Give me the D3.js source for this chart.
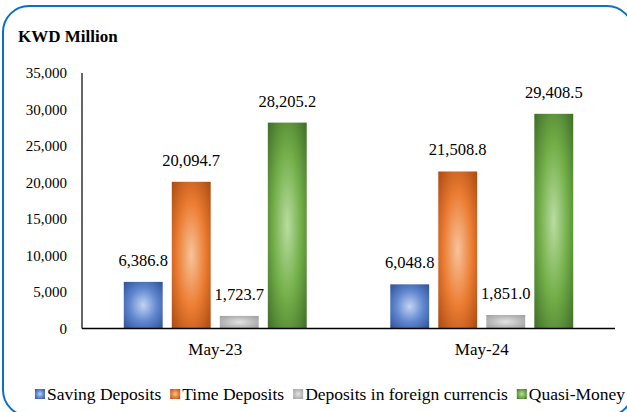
<!DOCTYPE html>
<html>
<head>
<meta charset="utf-8">
<script src="https://cdn.jsdelivr.net/npm/d3@7"></script>
<style>
  body { margin: 0; background: #fff; }
  svg text { font-family: "Liberation Serif", "DejaVu Serif", "Times New Roman", Times, serif; fill: #000; }
</style>
</head>
<body>
<svg id="chart" width="627" height="412"></svg>
<script>
// data
var categories = ['May-23', 'May-24'];
var seriesNames = ['Saving Deposits', 'Time Deposits', 'Deposits in foreign currencis', 'Quasi-Money'];
var saving = [6386.8, 6048.8];
var timeDep = [20094.7, 21508.8];
var foreign = [1723.7, 1851.0];
var quasi = [28205.2, 29408.5];
var yTicks = [0, 5000, 10000, 15000, 20000, 25000, 30000, 35000];

var seriesValues = [saving, timeDep, foreign, quasi];
// light centre, mid, dark edge
var seriesColors = [
    ['#c3d3f1', '#5f86cf', '#2c4f96'],
    ['#f7c39c', '#ec7d33', '#a7470f'],
    ['#e4e4e4', '#bdbdbd', '#9b9b9b'],
    ['#b9dca0', '#72ae48', '#3e6a27']
];

var svg = d3.select('#chart');
var defs = svg.append('defs');

seriesColors.forEach(function (c, i) {
    var g = defs.append('radialGradient')
        .attr('id', 'grad' + i)
        .attr('cx', 0.5).attr('cy', 0.5).attr('r', 0.72);
    g.append('stop').attr('offset', '0%').attr('stop-color', c[0]);
    g.append('stop').attr('offset', '50%').attr('stop-color', c[1]);
    g.append('stop').attr('offset', '100%').attr('stop-color', c[2]);
});

// frame
svg.append('rect')
    .attr('x', 3).attr('y', 6)
    .attr('width', 630).attr('height', 410)
    .attr('rx', 26).attr('ry', 26)
    .attr('fill', '#fff')
    .attr('stroke', '#0a70c2')
    .attr('stroke-width', 2);

svg.append('text')
    .attr('x', 18).attr('y', 42)
    .style('font-size', '17px')
    .style('font-weight', 'bold')
    .text('KWD Million');

var y = d3.scaleLinear().domain([0, 35000]).range([328.5, 73]);
var x0 = d3.scaleBand().domain(categories).range([82, 615]);
var x1 = d3.scaleBand().domain(d3.range(seriesNames.length))
    .range([0, x0.bandwidth()])
    .paddingInner(0.19)
    .paddingOuter(0.87);

// y tick labels (no tick marks)
svg.append('g').selectAll('text')
    .data(yTicks)
    .enter()
    .append('text')
    .attr('x', 67)
    .attr('y', function (d) { return y(d) + 5; })
    .attr('text-anchor', 'end')
    .style('font-size', '15px')
    .text(function (d) { return d3.format(',')(d); });

// bars
var groups = svg.append('g').selectAll('g')
    .data(categories)
    .enter()
    .append('g')
    .attr('transform', function (d) { return 'translate(' + x0(d) + ',0)'; });

groups.each(function (cat, ci) {
    var g = d3.select(this);
    seriesValues.forEach(function (vals, si) {
        var v = vals[ci];
        g.append('rect')
            .attr('x', x1(si))
            .attr('y', y(v))
            .attr('width', x1.bandwidth())
            .attr('height', y(0) - y(v))
            .attr('fill', 'url(#grad' + si + ')');
        g.append('text')
            .attr('x', x1(si) + x1.bandwidth() / 2)
            .attr('y', y(v) - 16)
            .attr('text-anchor', 'middle')
            .style('font-size', '16.5px')
            .text(d3.format(',.1f')(v));
    });
});

// axes lines
svg.append('line')
    .attr('x1', 82).attr('x2', 82)
    .attr('y1', y(35000)).attr('y2', y(0))
    .attr('stroke', '#000').attr('stroke-width', 1.2);
svg.append('line')
    .attr('x1', 82).attr('x2', 615)
    .attr('y1', y(0)).attr('y2', y(0))
    .attr('stroke', '#000').attr('stroke-width', 1.6);

// category labels
svg.append('g').selectAll('text')
    .data(categories)
    .enter()
    .append('text')
    .attr('x', function (d) { return x0(d) + x0.bandwidth() / 2; })
    .attr('y', 355)
    .attr('text-anchor', 'middle')
    .style('font-size', '17px')
    .text(function (d) { return d; });

// legend, laid out left to right then centred
var legend = svg.append('g');
var cursor = 0;
seriesNames.forEach(function (name, i) {
    var item = legend.append('g').attr('transform', 'translate(' + cursor + ',0)');
    item.append('rect')
        .attr('x', 0).attr('y', 389)
        .attr('width', 10).attr('height', 10)
        .attr('fill', 'url(#grad' + i + ')');
    var t = item.append('text')
        .attr('x', 12).attr('y', 400)
        .style('font-size', '17.5px')
        .text(name);
    cursor += 12 + t.node().getComputedTextLength() + 9;
});
cursor -= 9;
legend.attr('transform', 'translate(' + (330 - cursor / 2) + ',0)');
</script>
</body>
</html>
